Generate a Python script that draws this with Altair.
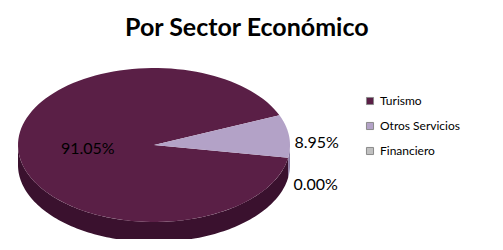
import math
import altair as alt
import pandas as pd

# ---- data -------------------------------------------------------------
sectors = ["Turismo", "Otros Servicios", "Financiero"]
shares = [91.05, 8.95, 0.00]
top_colors = ["#5a1f46", "#b3a2c7", "#c0c0c0"]
side_colors = ["#3a112e", "#8a7aa2", "#8c8c8c"]

df = pd.DataFrame({"sector": sectors, "share": shares, "idx": list(range(len(sectors)))})

# ---- layout -----------------------------------------------------------
W, H = 487, 186          # plot area
PAD_TOP = 45
CX, CY = 146, 92         # pie centre inside plot area (px)
RX, RY = 136, 77         # ellipse radii (px)
DEPTH = 20               # thickness of the 3-D pie (px)
START = math.radians(99.5)
N = 120
FONT = "Lato"

xdom = [-CX / RX, (W - CX) / RX]
ydom = [(CY - H) / RY, CY / RY]
XS = alt.Scale(domain=xdom, nice=False, zero=False)
YS = alt.Scale(domain=ydom, nice=False, zero=False)

base = (
    alt.Chart(df)
    .transform_joinaggregate(total="sum(share)")
    .transform_window(cum="sum(share)", sort=[alt.SortField("idx")])
    .transform_calculate(a0=f"{START} + 2*PI*(datum.cum - datum.share)/datum.total")
    .transform_calculate(a1=f"{START} + 2*PI*datum.cum/datum.total")
)

# side (front half of the cylinder)
side = (
    base.transform_calculate(k="sequence(0, 2)")
    .transform_flatten(["k"])
    .transform_calculate(s="max(datum.a0, PI/2 + 2*PI*datum.k)")
    .transform_calculate(e="min(datum.a1, 3*PI/2 + 2*PI*datum.k)")
    .transform_filter("datum.e > datum.s")
    .transform_calculate(i=f"sequence(0, {2 * N + 2})")
    .transform_flatten(["i"])
    .transform_calculate(j=f"datum.i <= {N} ? datum.i : {2 * N + 1} - datum.i")
    .transform_calculate(off=f"datum.i <= {N} ? 0 : 1")
    .transform_calculate(ang=f"datum.s + (datum.e - datum.s)*datum.j/{N}")
    .transform_calculate(ux="sin(datum.ang)")
    .transform_calculate(uy=f"cos(datum.ang) - datum.off*{DEPTH / RY}")
    .transform_calculate(grp="datum.sector + '-' + datum.k")
    .mark_line(filled=True)
    .encode(
        x=alt.X("ux:Q", scale=XS, axis=None),
        y=alt.Y("uy:Q", scale=YS, axis=None),
        order=alt.Order("i:Q"),
        detail="grp:N",
        color=alt.Color("sector:N", scale=alt.Scale(domain=sectors, range=side_colors), legend=None),
    )
)

# top face
top = (
    base.transform_filter("datum.share > 0")
    .transform_calculate(i=f"sequence(0, {N + 2})")
    .transform_flatten(["i"])
    .transform_calculate(ang=f"datum.a0 + (datum.a1 - datum.a0)*(datum.i - 1)/{N}")
    .transform_calculate(ux="datum.i == 0 ? 0 : sin(datum.ang)")
    .transform_calculate(uy="datum.i == 0 ? 0 : cos(datum.ang)")
    .mark_line(filled=True)
    .encode(
        x=alt.X("ux:Q", scale=XS, axis=None),
        y=alt.Y("uy:Q", scale=YS, axis=None),
        order=alt.Order("i:Q"),
        detail="sector:N",
        color=alt.Color(
            "sector:N",
            scale=alt.Scale(domain=sectors, range=top_colors),
            legend=alt.Legend(
                title=None,
                orient="none",
                legendX=356,
                legendY=42,
                values=sectors,
                symbolType="square",
                symbolSize=50,
                symbolStrokeColor="#8a8a8a",
                symbolStrokeWidth=1,
                labelFont=FONT,
                labelFontSize=12,
                labelColor="#000000",
                labelOffset=4,
                rowPadding=13,
                padding=0,
            ),
        ),
    )
)

lab_base = base.transform_calculate(
    mid="(datum.a0 + datum.a1)/2",
    txt="format(datum.share, '.2f') + '%'",
)

inside = (
    lab_base.transform_filter("datum.share/datum.total > 0.5")
    .transform_calculate(ux="0.49*sin(datum.mid)", uy="0.49*cos(datum.mid)")
    .mark_text(font=FONT, fontSize=16, color="#000000", align="center", baseline="middle")
    .encode(x=alt.X("ux:Q", scale=XS, axis=None), y=alt.Y("uy:Q", scale=YS, axis=None), text="txt:N")
)

outside = (
    lab_base.transform_filter("datum.share/datum.total <= 0.5")
    .transform_window(rk="row_number()", sort=[alt.SortField("idx")])
    .transform_calculate(ux="1.04*sin(datum.mid)")
    .transform_calculate(uy=f"1.03*cos(datum.mid) - (datum.rk - 1)*{20 / RY}")
    .mark_text(font=FONT, fontSize=16, color="#000000", align="left", baseline="middle", dy=7)
    .encode(x=alt.X("ux:Q", scale=XS, axis=None), y=alt.Y("uy:Q", scale=YS, axis=None), text="txt:N")
)

chart = (
    alt.layer(side, top, inside, outside)
    .resolve_scale(color="independent")
    .properties(
        width=W,
        height=H,
        background="#ffffff",
        padding={"left": 0, "top": PAD_TOP, "right": 0, "bottom": 0},
        autosize=alt.AutoSizeParams(type="none"),
        title=alt.TitleParams(
            "Por Sector Económico",
            font=FONT,
            fontSize=25,
            fontWeight="bold",
            color="#000000",
            anchor="start",
            dx=117,
            offset=12,
        ),
    )
    .configure_view(strokeWidth=0, stroke="transparent")
)

chart.save("out.html", embed_options={"renderer": "svg", "actions": False})
